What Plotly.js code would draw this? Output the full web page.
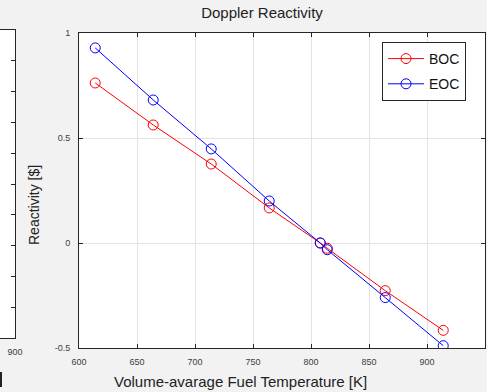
<!DOCTYPE html>
<html>
<head>
<meta charset="utf-8">
<script src="https://cdn.plot.ly/plotly-3.0.1.min.js"></script>
<style>html,body{margin:0;padding:0;background:#f2f2f2;}#chart{width:487px;height:392px;}</style>
</head>
<body>
<div id="chart"></div>
<script>
// Data
const temperature = [614, 664, 714, 764, 808, 814, 864, 914];
const bocReactivity = [0.762, 0.562, 0.376, 0.167, 0.0, -0.025, -0.227, -0.416];
const eocReactivity = [0.929, 0.681, 0.448, 0.200, 0.0, -0.032, -0.260, -0.489];
const seriesNames = ['BOC', 'EOC'];
const xTickVals = [600, 650, 700, 750, 800, 850, 900, 950];
const yTickVals = [-0.5, 0, 0.5, 1];
const yTickText = ['-0.5', '0', '0.5', '1'];
// partial neighbouring axes at left edge
const leftXTickVals = [900];
const leftYTickVals = [0, 1, 2, 3, 4, 5, 6, 7, 8, 9, 10];

const W = 487, H = 392;
const font = 'Liberation Sans, Arial, Helvetica, sans-serif';
const axisCol = '#262626';

const traces = [
  {x: temperature, y: bocReactivity, name: seriesNames[0], type: 'scatter', mode: 'lines+markers',
   line: {color: '#ff0000', width: 1}, marker: {symbol: 'circle-open', size: 10, color: '#ff0000', line: {width: 1}},
   xaxis: 'x', yaxis: 'y', legendgroup: 'a'},
  {x: temperature, y: eocReactivity, name: seriesNames[1], type: 'scatter', mode: 'lines+markers',
   line: {color: '#0000ff', width: 1}, marker: {symbol: 'circle-open', size: 10, color: '#0000ff', line: {width: 1}},
   xaxis: 'x', yaxis: 'y', legendgroup: 'b'},
  {x: [899, 900], y: [null, null], xaxis: 'x2', yaxis: 'y2', showlegend: false, hoverinfo: 'skip', mode: 'lines'}
];

const layout = {
  width: W, height: H,
  margin: {l: 0, r: 0, t: 0, b: 0, pad: 0},
  paper_bgcolor: '#f2f2f2',
  plot_bgcolor: '#ffffff',
  font: {family: font, color: axisCol},
  showlegend: true,
  title: {text: 'Doppler Reactivity', font: {family: font, size: 15, color: '#222'},
          xref: 'paper', x: 262 / W, xanchor: 'center', yref: 'container', y: 1 - 13 / H, yanchor: 'middle'},
  xaxis: {
    domain: [79 / W, 485 / W], range: [600, 950], tickvals: xTickVals,
    ticks: 'inside', ticklen: 4, tickcolor: axisCol, tickwidth: 1,
    showline: true, linecolor: axisCol, linewidth: 1, mirror: 'ticks',
    showgrid: true, gridcolor: '#e3e3e3', gridwidth: 1, zeroline: false,
    tickfont: {size: 9, color: '#404040', family: font}, automargin: false, anchor: 'y',
    ticklabelstandoff: 5
  },
  yaxis: {
    domain: [(H - 348) / H, (H - 33) / H], range: [-0.5, 1], tickvals: yTickVals, ticktext: yTickText,
    ticks: 'inside', ticklen: 4, tickcolor: axisCol, tickwidth: 1,
    showline: true, linecolor: axisCol, linewidth: 1, mirror: 'ticks',
    showgrid: true, gridcolor: '#e3e3e3', gridwidth: 1, zeroline: false,
    tickfont: {size: 9, color: '#404040', family: font}, automargin: false, anchor: 'x',
    ticklabelstandoff: 6
  },
  xaxis2: {
    domain: [0, 15 / W], range: [899, 900], tickvals: leftXTickVals,
    ticks: 'inside', ticklen: 4, tickcolor: axisCol,
    showline: true, linecolor: axisCol, linewidth: 1, mirror: true,
    showgrid: false, zeroline: false, tickfont: {size: 9, color: '#404040', family: font},
    automargin: false, anchor: 'y2', fixedrange: true, ticklabelstandoff: 5
  },
  yaxis2: {
    domain: [(H - 338) / H, (H - 30) / H], range: [0, 10], tickvals: leftYTickVals,
    side: 'right', ticks: 'inside', ticklen: 4, tickcolor: axisCol, showticklabels: false,
    showline: true, linecolor: axisCol, linewidth: 1, mirror: false,
    showgrid: false, zeroline: false, automargin: false, anchor: 'x2', fixedrange: true
  },
  legend: {
    x: 382 / W, xanchor: 'left', y: 1 - 42 / H, yanchor: 'top',
    bgcolor: '#ffffff', bordercolor: axisCol, borderwidth: 1,
    font: {size: 14, family: font, color: '#111'}, itemwidth: 36,
    traceorder: 'grouped', tracegroupgap: 4
  },
  shapes: [
    {type: 'line', xref: 'paper', yref: 'paper', x0: 1 / W, x1: 1 / W, y0: 1 - 372 / H, y1: 1 - 387 / H,
     line: {color: '#222', width: 2}}
  ],
  annotations: [
    {text: 'Volume-avarage Fuel Temperature [K]', xref: 'paper', yref: 'paper', x: 240 / W, y: 1 - 381 / H,
     xanchor: 'center', yanchor: 'middle', showarrow: false, font: {size: 15, family: font, color: '#222'}},
    {text: 'Reactivity [$]', xref: 'paper', yref: 'paper', x: 34 / W, y: 1 - 205 / H, textangle: -90,
     xanchor: 'center', yanchor: 'middle', showarrow: false, font: {size: 14, family: font, color: '#222'}}
  ]
};

Plotly.newPlot('chart', traces, layout, {displayModeBar: false, staticPlot: true});
</script>
</body>
</html>
